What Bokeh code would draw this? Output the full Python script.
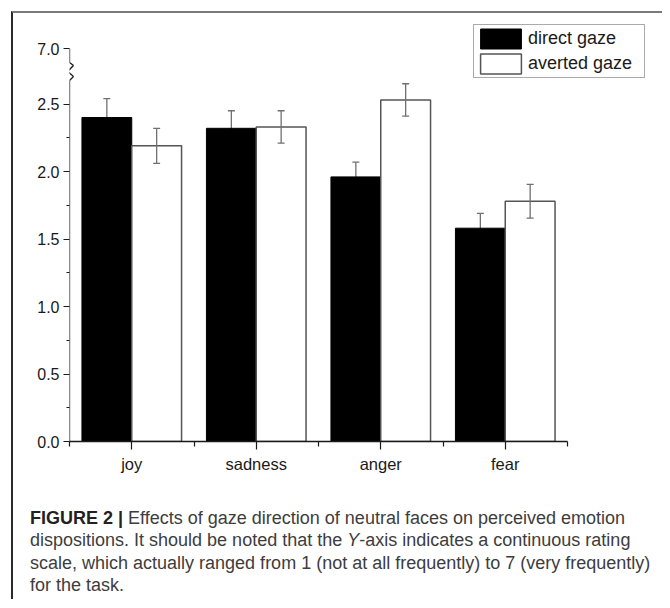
from bokeh.plotting import figure
from bokeh.models import FixedTicker, Legend, LegendItem, Arrow, Div, ColumnDataSource
from bokeh.layouts import column
from bokeh.embed import file_html
from bokeh.resources import INLINE

# ---------------- data ----------------
categories = ["joy", "sadness", "anger", "fear"]
series_labels = ["direct gaze", "averted gaze"]
direct_mean = [2.40, 2.32, 1.96, 1.58]
direct_se = [0.14, 0.13, 0.11, 0.11]
averted_mean = [2.19, 2.33, 2.53, 1.78]
averted_se = [0.13, 0.12, 0.12, 0.125]
y_tick_values = [0.0, 0.5, 1.0, 1.5, 2.0, 2.5]
y_tick_labels = ["0.0", "0.5", "1.0", "1.5", "2.0", "2.5"]
y_minor_values = [0.25, 0.75, 1.25, 1.75, 2.25]
y_break_label = "7.0"

# ---------------- layout constants ----------------
PX_PER_X, PX_PER_Y = 124.5, 135.0
FRAME_W, FRAME_H = 581, 421
X_START = 0.5
X_AXIS_END = 4.5
X_END = X_START + FRAME_W / PX_PER_X
Y_START = 0.0
Y_END = FRAME_H / PX_PER_Y
AXIS_TOP = 2.911          # axis position where the broken scale shows 7.0
BAR_W = 0.4
PX = 1.0 / PX_PER_X
CAP = 3.5 * PX
FONT = "Liberation Sans"

xc = [i + 1 for i in range(len(categories))]
x_direct = [x - BAR_W / 2 for x in xc]
x_averted = [x + BAR_W / 2 for x in xc]

src_d = ColumnDataSource(dict(
    x=x_direct, top=direct_mean,
    lo=[m - s for m, s in zip(direct_mean, direct_se)],
    hi=[m + s for m, s in zip(direct_mean, direct_se)],
    c0=[x - CAP for x in x_direct], c1=[x + CAP for x in x_direct]))
src_a = ColumnDataSource(dict(
    x=x_averted, top=averted_mean,
    lo=[m - s for m, s in zip(averted_mean, averted_se)],
    hi=[m + s for m, s in zip(averted_mean, averted_se)],
    c0=[x - CAP for x in x_averted], c1=[x + CAP for x in x_averted]))

p = figure(width=649, height=494, x_range=(X_START, X_END), y_range=(Y_START, Y_END),
           output_backend="svg", toolbar_location=None,
           min_border_left=56, min_border_right=12, min_border_top=7, min_border_bottom=66)
p.outline_line_color = None
p.xgrid.visible = False
p.ygrid.visible = False
p.background_fill_color = "white"
p.border_fill_color = "white"

ERR_COLOR = "#707070"
# direct gaze: error bars behind the black bars
p.segment(x0="x", y0="lo", x1="x", y1="hi", source=src_d, line_color=ERR_COLOR, line_width=1.3)
p.segment(x0="c0", y0="hi", x1="c1", y1="hi", source=src_d, line_color=ERR_COLOR, line_width=1.3)
r_d = p.vbar(x="x", top="top", bottom=0, width=BAR_W, source=src_d,
             fill_color="black", line_color="black", line_width=1)
r_a = p.vbar(x="x", top="top", bottom=0, width=BAR_W, source=src_a,
             fill_color="white", line_color="#555555", line_width=1.5)
p.segment(x0="x", y0="lo", x1="x", y1="hi", source=src_a, line_color=ERR_COLOR, line_width=1.3)
p.segment(x0="c0", y0="hi", x1="c1", y1="hi", source=src_a, line_color=ERR_COLOR, line_width=1.3)
p.segment(x0="c0", y0="lo", x1="c1", y1="lo", source=src_a, line_color=ERR_COLOR, line_width=1.3)

# ---------------- axes ----------------
xa = p.xaxis[0]
xa.bounds = (X_START, X_AXIS_END)
xa.ticker = FixedTicker(ticks=xc, minor_ticks=[X_START] + [x + 0.5 for x in xc])
xa.major_label_overrides = {x: c for x, c in zip(xc, categories)}
xa.major_tick_out = 8
xa.major_tick_in = 0
xa.minor_tick_out = 5
xa.minor_tick_in = 0
xa.axis_line_color = "#1a1a1a"
xa.axis_line_width = 1.3
xa.major_tick_line_color = "#1a1a1a"
xa.minor_tick_line_color = "#1a1a1a"
xa.major_tick_line_width = 1.2
xa.minor_tick_line_width = 1.2
xa.major_label_text_font = FONT
xa.major_label_text_font_size = "16.5px"
xa.major_label_text_color = "#1a1a1a"
xa.major_label_standoff = 5

ya = p.yaxis[0]
ya.ticker = FixedTicker(ticks=y_tick_values + [AXIS_TOP], minor_ticks=y_minor_values)
overrides = {v: l for v, l in zip(y_tick_values, y_tick_labels)}
overrides[AXIS_TOP] = y_break_label
ya.major_label_overrides = overrides
ya.axis_line_color = None
ya.major_tick_out = 6
ya.major_tick_in = 0
ya.minor_tick_out = 3
ya.minor_tick_in = 0
ya.major_tick_line_color = "#1a1a1a"
ya.minor_tick_line_color = "#1a1a1a"
ya.major_tick_line_width = 1.2
ya.minor_tick_line_width = 1.2
ya.major_label_text_font = FONT
ya.major_label_text_font_size = "16px"
ya.major_label_text_color = "#1a1a1a"
ya.major_label_standoff = 4

# y axis line with a scale break (zigzag), drawn as segments
brk = [(0, 0.0), (0, 2.674), (4, 2.704), (-2, 2.741), (4, 2.785), (0, 2.807), (0, AXIS_TOP)]
for (dx0, y0), (dx1, y1) in zip(brk[:-1], brk[1:]):
    p.add_layout(Arrow(end=None, x_start=X_START + dx0 * PX, y_start=y0,
                       x_end=X_START + dx1 * PX, y_end=y1,
                       line_color="#1a1a1a", line_width=1.3))

# ---------------- legend ----------------
legend = Legend(items=[LegendItem(label=series_labels[0], renderers=[r_d]),
                       LegendItem(label=series_labels[1], renderers=[r_a])],
                location=(404, 363), glyph_width=51, glyph_height=25,
                label_height=25, label_width=115, label_standoff=2,
                padding=1, spacing=0, margin=0,
                label_text_font=FONT, label_text_font_size="18px",
                label_text_color="#1a1a1a",
                border_line_color="#555555", border_line_width=1,
                background_fill_color="white", background_fill_alpha=1)
p.add_layout(legend)

# ---------------- caption ----------------
cap_html = (
    '<div style="font-family: \'Liberation Sans\', Arial, sans-serif; font-size: 18px; '
    'line-height: 22.4px; color: #3d3d3d; white-space: nowrap;">'
    '<span style="font-weight: bold; color: #222;">FIGURE 2 |</span> Effects of gaze direction of neutral faces on perceived emotion<br>'
    'dispositions. It should be noted that the <i>Y</i>-axis indicates a continuous rating<br>'
    'scale, which actually ranged from 1 (not at all frequently) to 7 (very frequently)<br>'
    'for the task.</div>'
)
cap = Div(text=cap_html, width=630, height=92, margin=(0, 0, 0, 17))

layout = column(p, cap, margin=(11, 0, 0, 11),
                styles={"border-top": "2px solid #7a7a7a", "border-left": "2px solid #2a2a2a"})

open("out.html", "w").write(file_html(layout, INLINE))
